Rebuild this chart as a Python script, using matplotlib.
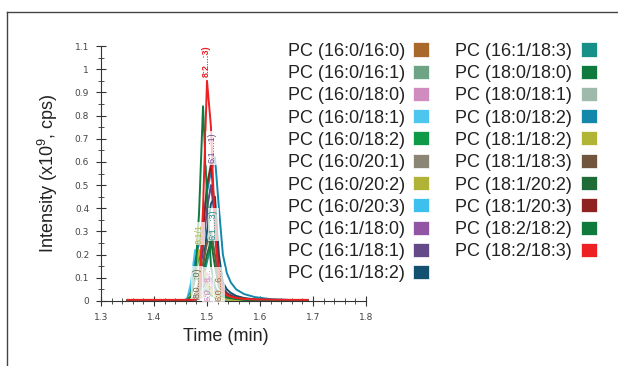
import numpy as np
import matplotlib.pyplot as plt
from matplotlib.patches import Rectangle
from matplotlib.lines import Line2D
from matplotlib.ticker import MultipleLocator

# temps de retention (min)
t = [1.35, 1.455, 1.4625, 1.47, 1.4775, 1.485, 1.4925, 1.50, 1.5075, 1.515,
     1.5225, 1.53, 1.5375, 1.545, 1.555, 1.57, 1.59, 1.62, 1.66, 1.69]

noms = ["PC (16:0/16:0)", "PC (16:0/16:1)", "PC (16:0/18:0)", "PC (16:0/18:1)",
        "PC (16:0/18:2)", "PC (16:0/20:1)", "PC (16:0/20:2)", "PC (16:0/20:3)",
        "PC (16:1/18:0)", "PC (16:1/18:1)", "PC (16:1/18:2)", "PC (16:1/18:3)",
        "PC (18:0/18:0)", "PC (18:0/18:1)", "PC (18:0/18:2)", "PC (18:1/18:2)",
        "PC (18:1/18:3)", "PC (18:1/20:2)", "PC (18:1/20:3)", "PC (18:2/18:2)",
        "PC (18:2/18:3)"]

couleurs = ["#a8692a", "#6fa386", "#d08cbf", "#4dc6ef", "#0f9a48", "#8a8574",
            "#b0b336", "#3ec0ee", "#9155a4", "#654a8a", "#125270", "#17908a",
            "#0f7a3e", "#9fb9aa", "#1488aa", "#b1b434", "#71553d", "#1f6b37",
            "#8f2221", "#0f7a3e", "#ed2024"]

# intensites (x10^9 cps), une liste par espece
I = [
    [0, 0, 0, 0.002, 0.008, 0.02, 0.035, 0.05, 0.06, 0.04, 0.02, 0.012, 0.008, 0.005, 0.003, 0.002, 0.001, 0, 0, 0],
    [0, 0, 0, 0.002, 0.008, 0.025, 0.04, 0.05, 0.035, 0.02, 0.012, 0.008, 0.005, 0.004, 0.003, 0.002, 0.001, 0, 0, 0],
    [0, 0, 0, 0.003, 0.015, 0.05, 0.09, 0.12, 0.08, 0.04, 0.02, 0.012, 0.008, 0.006, 0.004, 0.002, 0.001, 0, 0, 0],
    [0, 0.001, 0.01, 0.08, 0.22, 0.2, 0.12, 0.07, 0.04, 0.025, 0.018, 0.012, 0.009, 0.007, 0.005, 0.003, 0.002, 0.001, 0, 0],
    [0, 0, 0.004, 0.03, 0.1, 0.2, 0.14, 0.07, 0.04, 0.025, 0.015, 0.01, 0.007, 0.005, 0.004, 0.002, 0.001, 0, 0, 0],
    [0, 0, 0, 0.001, 0.004, 0.01, 0.02, 0.03, 0.04, 0.04, 0.02, 0.01, 0.006, 0.004, 0.003, 0.002, 0.001, 0, 0, 0],
    [0, 0, 0, 0.004, 0.02, 0.05, 0.08, 0.06, 0.035, 0.02, 0.012, 0.008, 0.005, 0.004, 0.003, 0.002, 0.001, 0, 0, 0],
    [0, 0.001, 0.008, 0.05, 0.1, 0.12, 0.08, 0.05, 0.03, 0.02, 0.014, 0.01, 0.007, 0.005, 0.004, 0.002, 0.001, 0, 0, 0],
    [0, 0, 0, 0.002, 0.01, 0.03, 0.06, 0.09, 0.1, 0.06, 0.03, 0.015, 0.01, 0.007, 0.005, 0.003, 0.001, 0, 0, 0],
    [0, 0, 0, 0.004, 0.02, 0.08, 0.22, 0.4, 0.5, 0.35, 0.12, 0.06, 0.035, 0.025, 0.015, 0.01, 0.005, 0.002, 0, 0],
    [0, 0, 0, 0.004, 0.02, 0.06, 0.15, 0.3, 0.42, 0.45, 0.2, 0.08, 0.05, 0.035, 0.022, 0.013, 0.007, 0.003, 0, 0],
    [0, 0, 0, 0.003, 0.015, 0.04, 0.09, 0.17, 0.24, 0.28, 0.12, 0.05, 0.03, 0.022, 0.015, 0.009, 0.005, 0.002, 0, 0],
    [0, 0, 0.003, 0.03, 0.1, 0.09, 0.06, 0.04, 0.025, 0.015, 0.01, 0.007, 0.005, 0.004, 0.003, 0.002, 0.001, 0, 0, 0],
    [0, 0, 0, 0.002, 0.01, 0.03, 0.05, 0.06, 0.04, 0.02, 0.012, 0.008, 0.005, 0.004, 0.003, 0.002, 0.001, 0, 0, 0],
    [0.003, 0.003, 0.006, 0.04, 0.17, 0.25, 0.35, 0.47, 0.56, 0.62, 0.4, 0.2, 0.12, 0.08, 0.05, 0.03, 0.017, 0.008, 0.004, 0.003],
    [0, 0, 0.003, 0.03, 0.1, 0.22, 0.15, 0.08, 0.04, 0.025, 0.015, 0.01, 0.007, 0.005, 0.004, 0.002, 0.001, 0, 0, 0],
    [0, 0, 0, 0.004, 0.02, 0.07, 0.16, 0.25, 0.3, 0.2, 0.08, 0.04, 0.025, 0.018, 0.012, 0.007, 0.004, 0.002, 0, 0],
    [0, 0, 0, 0.003, 0.015, 0.05, 0.12, 0.2, 0.26, 0.15, 0.06, 0.03, 0.02, 0.014, 0.01, 0.006, 0.003, 0.001, 0, 0],
    [0.004, 0.004, 0.004, 0.005, 0.01, 0.08, 0.3, 0.5, 0.59, 0.38, 0.12, 0.05, 0.03, 0.022, 0.015, 0.01, 0.006, 0.005, 0.004, 0.004],
    [0.004, 0.004, 0.005, 0.02, 0.1, 0.38, 0.84, 0.45, 0.15, 0.06, 0.03, 0.02, 0.015, 0.012, 0.009, 0.006, 0.005, 0.004, 0.004, 0.004],
    [0.005, 0.005, 0.005, 0.005, 0.006, 0.02, 0.4, 0.95, 0.75, 0.3, 0.1, 0.04, 0.025, 0.018, 0.013, 0.009, 0.007, 0.006, 0.005, 0.005],
]

# etiquettes tronquees sur les pics
etiq_txt = ["8:2...:3)", "6:1...:1)", "6:1...:3)", "8:1/1", "8:0...:0)", "6:0...8...", "6:0...6..."]
etiq_x = [1.498, 1.509, 1.512, 1.4855, 1.481, 1.5015, 1.522]
etiq_y = [1.035, 0.66, 0.33, 0.29, 0.08, 0.07, 0.07]
etiq_c = ["#ed2024", "#654a8a", "#17908a", "#b1b434", "#6b6b3a", "#d08cbf", "#a8692a"]

W, H = 618, 366
fig = plt.figure(figsize=(W/100, H/100), dpi=100)
ax = fig.add_axes([101/W, 1-301/H, 265/W, 255/H])

for i in range(len(noms)):
    ax.plot(t, I[i], color=couleurs[i], lw=1.4)

for i in range(len(etiq_txt)):
    gras = "bold" if i == 0 else "normal"
    ax.text(etiq_x[i], etiq_y[i], etiq_txt[i], rotation=90, fontsize=6.5, color=etiq_c[i],
            ha="center", va="center", fontweight=gras, family="Liberation Sans",
            bbox=dict(facecolor="white", edgecolor="none", alpha=0.75, pad=1.0))

ax.set_xlim(1.3, 1.8)
ax.set_ylim(0, 1.1)
ax.spines["top"].set_visible(False)
ax.spines["right"].set_visible(False)
ax.spines["left"].set_color("#333333")
ax.spines["bottom"].set_color("#333333")
ax.xaxis.set_minor_locator(MultipleLocator(0.02))
ax.yaxis.set_minor_locator(MultipleLocator(0.05))
ax.set_yticks(np.arange(0, 1.11, 0.1))
ax.set_yticklabels(["0", "0.1", "0.2", "0.3", "0.4", "0.5", "0.6", "0.7", "0.8", "0.9", "1", "1.1"])
ax.set_xticks([1.3, 1.4, 1.5, 1.6, 1.7, 1.8])
ax.set_xticklabels(["1.3", "1.4", "1.5", "1.6", "1.7", "1.8"])
ax.tick_params(which="major", direction="inout", length=7, width=0.8, color="#333333",
               labelsize=6.5, labelcolor="#444444", pad=5)
ax.tick_params(which="minor", direction="inout", length=4, width=0.6, color="#333333")

ax.set_xlabel("Time (min)", fontsize=13, color="#222222", family="Liberation Sans")
ax.xaxis.set_label_coords((225.5-101)/265, -(328-301)/255)
ax.set_ylabel(r"Intensity (x10$\mathregular{^9}$, cps)", fontsize=13, color="#222222", family="Liberation Sans")
ax.yaxis.set_label_coords(-(101-60)/265, 0.5)

# legende a la main : texte a gauche, carre de couleur a droite
for i in range(len(noms)):
    col = i // 11
    ligne = i % 11
    yc = 49.5 + ligne*22.25
    xt = 288 if col == 0 else 455
    xc = 413 if col == 0 else 581
    fig.text(xt/W, 1-yc/H, noms[i], fontsize=13, color="#222222", family="Liberation Sans",
             ha="left", va="center_baseline")
    fig.add_artist(Rectangle((xc/W, 1-(yc+7)/H), 16/W, 14/H, facecolor=couleurs[i],
                             edgecolor="white", lw=0.5, transform=fig.transFigure))

# cadre de la figure
fig.add_artist(Line2D([7/W, 1], [1-12/H, 1-12/H], color="#444444", lw=1, transform=fig.transFigure))
fig.add_artist(Line2D([7/W, 7/W], [0, 1-12/H], color="#444444", lw=1, transform=fig.transFigure))

fig.savefig("out.png", dpi=100)
